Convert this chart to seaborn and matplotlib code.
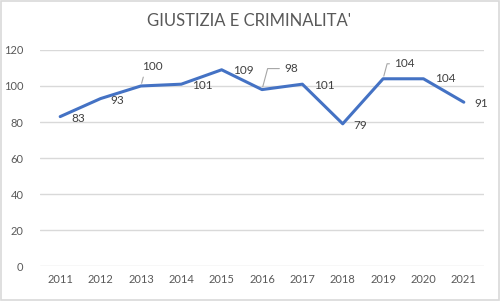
import matplotlib
matplotlib.use("Agg")
import matplotlib.pyplot as plt
import seaborn as sns
import pandas as pd
from matplotlib.patches import Rectangle

years = ["2011", "2012", "2013", "2014", "2015", "2016", "2017", "2018", "2019", "2020", "2021"]
values = [83, 93, 100, 101, 109, 98, 101, 79, 104, 104, 91]
title = "GIUSTIZIA E CRIMINALITA'"

# label offsets in pixels (dx, dy) and leader flags
offsets = [(18, -2), (17, -2), (1, 19), (21, -1), (22, -1), (22, 21), (22, -1), (18, -2), (11, 15), (22, 0), (17, -1)]
leaders = [False, False, True, False, False, True, False, False, True, False, False]

sns.set_theme(style="white")
plt.rcParams['font.family'] = ['Lato', 'DejaVu Sans']

df = pd.DataFrame({"year": years, "value": values})
fig = plt.figure(figsize=(5.0, 3.01), dpi=100)
ax = fig.add_axes([0.08, 0.116, 0.888, 0.718])

sns.lineplot(data=df, x="year", y="value", ax=ax, color="#4472C4", linewidth=2.2, sort=False)

ax.set_xlim(-0.5, len(years) - 0.5)
ax.set_ylim(0, 120)
ax.set_yticks(range(0, 121, 20))
ax.yaxis.grid(True, color="#D9D9D9", linewidth=1)
ax.set_axisbelow(True)
for s in ax.spines.values():
    s.set_visible(False)
ax.set_xlabel("")
ax.set_ylabel("")
ax.tick_params(axis="both", length=0, labelsize=8, colors="#595959", pad=6)
ax.tick_params(axis="y", pad=12)

for i, (v, (dx, dy), ld) in enumerate(zip(values, offsets, leaders)):
    px = dx * 0.72
    py = dy * 0.72
    if ld:
        ax.annotate(str(v), xy=(i, v), xytext=(px, py), textcoords="offset points",
                    ha="left", va="center", fontsize=8.5, color="#404040",
                    arrowprops=dict(arrowstyle="-", color="#A6A6A6", lw=0.8,
                                    shrinkA=1, shrinkB=2, relpos=(0, 0.5),
                                    connectionstyle="angle,angleA=0,angleB=75,rad=0"))
    else:
        ax.annotate(str(v), xy=(i, v), xytext=(px, py), textcoords="offset points",
                    ha="center", va="center", fontsize=8.5, color="#404040")

fig.text(0.498, 0.93, title, ha="center", va="center", fontsize=12, color="#595959")

fig.patches.append(Rectangle((0.002, 0.003), 0.996, 0.994, transform=fig.transFigure,
                             fill=False, edgecolor="#D9D9D9", linewidth=1.2))

fig.savefig("out.png", dpi=100, facecolor="white")
